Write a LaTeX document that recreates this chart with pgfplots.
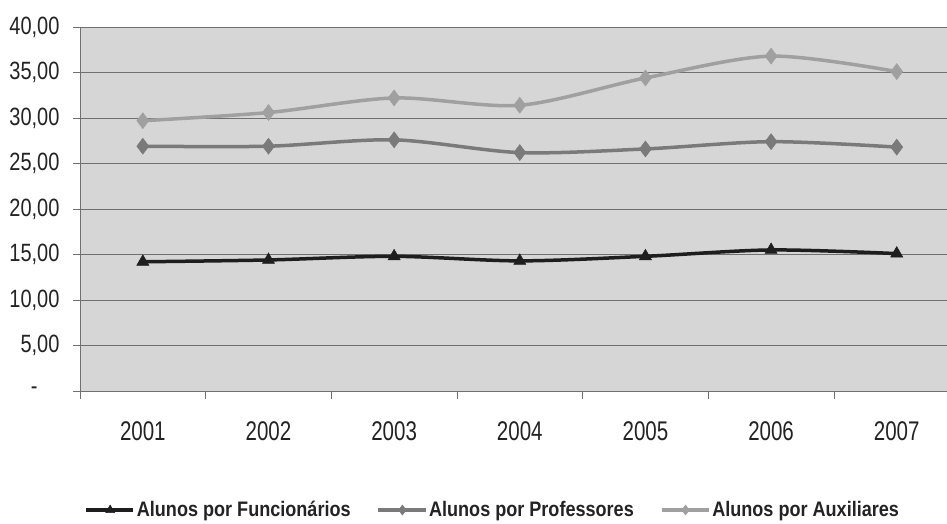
\documentclass[border=0pt]{standalone}
\usepackage{fontspec}
\usepackage{pgfplots}
\pgfplotsset{compat=1.18}
\newfontfamily\yfont[FakeStretch=0.8]{Liberation Sans}
\newfontfamily\xfont[FakeStretch=0.76]{Liberation Sans}
\newfontfamily\legfont[FakeStretch=0.86]{Liberation Sans}
\definecolor{bgc}{RGB}{214,214,214}
\definecolor{gridc}{RGB}{112,112,112}
\definecolor{funcc}{RGB}{30,30,30}
\definecolor{profc}{RGB}{122,122,122}
\definecolor{auxc}{RGB}{160,160,160}
\definecolor{txt}{RGB}{35,35,35}
\begin{document}
\begin{tikzpicture}
\begin{axis}[
  at={(0,0)}, anchor=south west,
  scale only axis,
  width=867bp, height=364bp,
  xmin=0.5, xmax=7.4,
  ymin=0, ymax=40,
  axis x line=bottom, axis y line=left,
  axis line style={draw=gridc, line width=0.8bp, -},
  axis background/.style={fill=bgc},
  xtick={1,...,7},
  xticklabels={2001,2002,2003,2004,2005,2006,2007},
  minor xtick={0.5,1.5,...,6.5},
  major x tick style={draw=none},
  minor x tick style={draw=gridc, line width=0.8bp},
  minor tick length=8bp,
  xticklabel style={font=\xfont\fontsize{27bp}{30bp}\selectfont, text=txt, yshift=-20bp},
  ytick={0,5,...,40},
  yticklabels={{-\hspace*{22bp}\null},{5,00},{10,00},{15,00},{20,00},{25,00},{30,00},{35,00},{40,00}},
  yticklabel style={font=\yfont\fontsize{25bp}{27bp}\selectfont, text=txt, xshift=-10bp},
  major y tick style={draw=gridc, line width=0.8bp},
  major tick length=7bp,
  tick align=outside,
  ymajorgrids=true,
  major grid style={draw=gridc, line width=0.8bp},
  legend style={at={(0.476,-0.327)}, anchor=center, legend columns=3,
    draw=none, fill=none, font=\legfont\bfseries\fontsize{21bp}{23bp}\selectfont, text=txt,
    /tikz/every even column/.append style={column sep=24bp}},
  legend image code/.code={
    \draw[mark repeat=2, mark phase=2, #1, mark size=5bp]
      plot coordinates {(0bp,0bp) (24bp,0bp) (47bp,0bp)};},
]
\addplot[smooth, draw=funcc, line width=3.5bp, mark=triangle*, mark size=7bp,
  mark options={fill=funcc, draw=funcc, line width=0.5bp}]
  coordinates {(1,14.2) (2,14.4) (3,14.8) (4,14.3) (5,14.8) (6,15.5) (7,15.1)};
\addlegendentry{Alunos por Funcionários}
\addplot[smooth, draw=profc, line width=3.5bp, mark=diamond*, mark size=8bp,
  mark options={fill=profc, draw=profc, line width=0.5bp}]
  coordinates {(1,26.9) (2,26.9) (3,27.6) (4,26.2) (5,26.6) (6,27.4) (7,26.8)};
\addlegendentry{Alunos por Professores}
\addplot[smooth, draw=auxc, line width=3.5bp, mark=diamond*, mark size=8bp,
  mark options={fill=auxc, draw=auxc, line width=0.5bp}]
  coordinates {(1,29.7) (2,30.6) (3,32.2) (4,31.4) (5,34.4) (6,36.8) (7,35.1)};
\addlegendentry{Alunos por Auxiliares}
\end{axis}
\pgfresetboundingbox
\path (-80bp,-133bp) rectangle (867bp,391bp);
\end{tikzpicture}
\end{document}
